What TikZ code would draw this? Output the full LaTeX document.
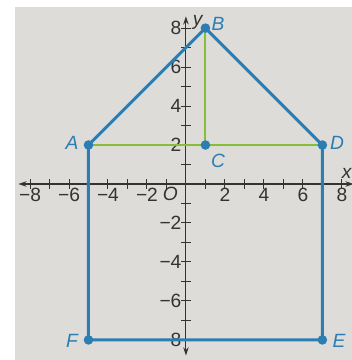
\documentclass[tikz,border=0pt]{standalone}
\usepackage{fontspec}
\setmainfont{Liberation Sans}
\usetikzlibrary{arrows.meta}
\definecolor{paper}{HTML}{DEDCD9}
\definecolor{edgeblue}{HTML}{2B7DB3}
\definecolor{seggreen}{HTML}{86BE3A}
\definecolor{ink}{HTML}{333333}
\tikzset{
  poly/.style={draw=edgeblue, line width=2.2pt, line join=round},
  seg/.style={draw=seggreen, line width=1.5pt},
  axis/.style={draw=ink, line width=0.8pt, -{Stealth[length=6pt,width=4pt]}},
  tick/.style={draw=ink, line width=0.7pt},
  dot/.style={circle, fill=edgeblue, inner sep=0pt, minimum size=7pt},
  ptlabel/.style={text=edgeblue, font=\fontsize{14}{14}\selectfont\itshape, inner sep=1pt},
  num/.style={text=ink, font=\fontsize{14}{14}\selectfont, inner sep=1pt},
}
\begin{document}
\begin{tikzpicture}[x=0.5cm,y=0.5cm]
\useasboundingbox (-9.54,-9.03) rectangle (8.51,9.44);
\fill[white] (-9.54,-9.03) rectangle (8.51,9.44);
\fill[paper] (-8.77,-9.03) rectangle (8.51,9.08);
% axes
\coordinate (xl) at (-8.6,0);
\coordinate (xr) at (8.6,0);
\coordinate (yb) at (0,-8.8);
\coordinate (yt) at (0,8.6);
\coordinate (o) at (0,0);
\draw[axis] (o) -- (xr);
\draw[axis] (o) -- (xl);
\draw[axis] (o) -- (yt);
\draw[axis] (o) -- (yb);
\foreach \i in {-8,...,-1,1,2,...,8} {
  \draw[tick] (\i,-0.25) -- (\i,0.25);
  \draw[tick] (-0.25,\i) -- (0.25,\i);
}
\foreach \i in {-8,-6,-4,-2} {
  \node[num, below] (xn\i) at (\i,-0.15) {−\the\numexpr-\i\relax};
}
\foreach \i in {2,4,6,8} {
  \node[num, below] (xp\i) at (\i,-0.15) {\i};
  \node[num, left] (yp\i) at (-0.15,\i) {\i};
}
\foreach \i in {-2,-4,-6,-8} {
  \node[num, left] (yn\i) at (-0.15,\i) {−\the\numexpr-\i\relax};
}
\node[num, font=\fontsize{14}{14}\selectfont\itshape] (O) at (-0.8,-0.5) {O};
\node[num, font=\fontsize{14}{14}\selectfont\itshape] (xlab) at (8.25,0.55) {x};
\node[num, font=\fontsize{14}{14}\selectfont\itshape] (ylab) at (0.6,8.3) {y};
% points
\coordinate (A) at (-5,2);
\coordinate (B) at (1,8);
\coordinate (C) at (1,2);
\coordinate (D) at (7,2);
\coordinate (E) at (7,-8);
\coordinate (F) at (-5,-8);
\draw[seg] (A) -- (D);
\draw[seg] (B) -- (C);
\draw[poly] (A) -- (B) -- (D) -- (E) -- (F) -- cycle;
\foreach \p in {A,B,C,D,E,F} \node[dot] (d\p) at (\p) {};
\node[ptlabel] (lA) at (-5.85,2.1) {A};
\node[ptlabel] (lB) at (1.65,8.2) {B};
\node[ptlabel] (lC) at (1.65,1.2) {C};
\node[ptlabel] (lD) at (7.75,2.1) {D};
\node[ptlabel] (lE) at (7.85,-8.05) {E};
\node[ptlabel] (lF) at (-5.85,-8.05) {F};
\end{tikzpicture}
\end{document}
